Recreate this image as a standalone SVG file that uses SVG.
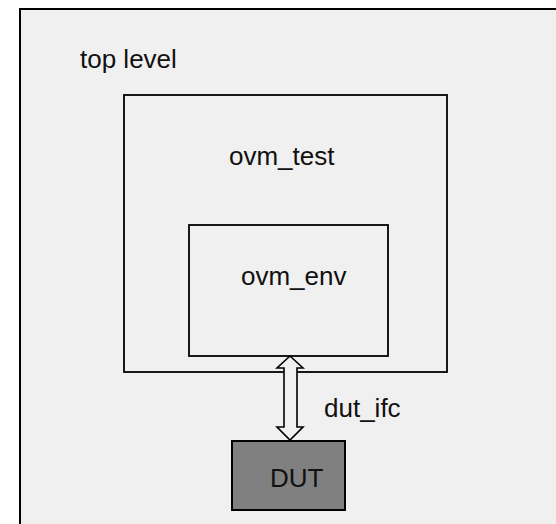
<svg xmlns="http://www.w3.org/2000/svg" width="556" height="524" viewBox="0 0 556 524">
<style>
text{font-family:"Liberation Sans",Arial,sans-serif;font-size:26px;fill:#111}
.box{fill:none;stroke:#000;stroke-width:1.8}
</style>
<rect width="556" height="524" fill="#fff"/>
<g id="top_level">
<rect x="20" y="9" width="600" height="600" fill="#f0f0f0" stroke="#000" stroke-width="2"/>
<text x="80" y="68">top level</text>
</g>
<g id="ovm_test">
<rect class="box" x="124" y="95" width="323" height="277"/>
<text x="229" y="165">ovm_test</text>
</g>
<g id="ovm_env">
<rect class="box" x="189" y="225" width="199" height="131"/>
<text x="241" y="285">ovm_env</text>
</g>
<g id="DUT">
<rect x="232" y="441" width="113" height="69" fill="#808080" stroke="#000" stroke-width="2"/>
<text x="270" y="487">DUT</text>
</g>
<g id="connectors">
<polygon points="290,356 303,368 297,368 297,427 303,427 290,440 277,427 284,427 284,368 277,368" fill="#f0f0f0" stroke="#000" stroke-width="1.6" stroke-linejoin="miter"/>
<text x="324" y="417">dut_ifc</text>
</g>
</svg>
